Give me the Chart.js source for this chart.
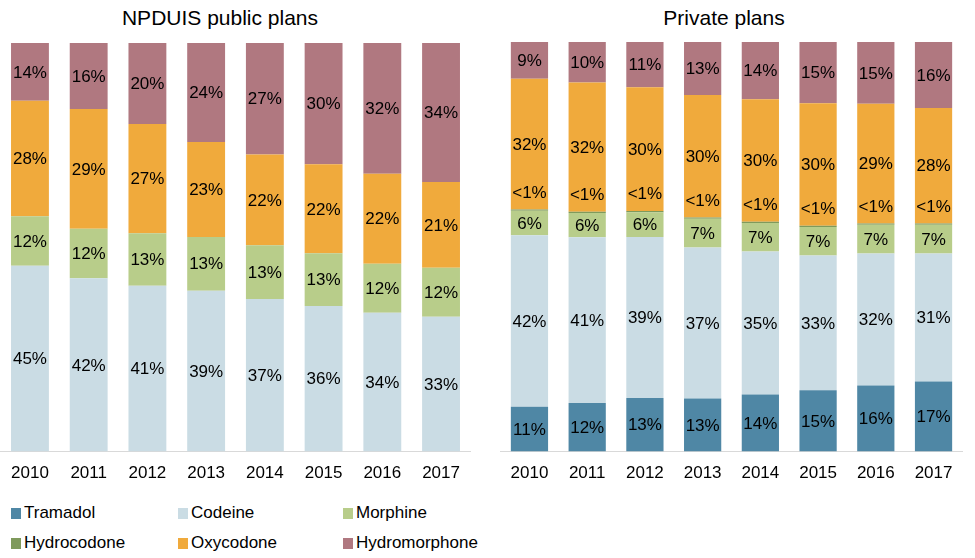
<!DOCTYPE html>
<html>
<head>
<meta charset="utf-8">
<script src="https://cdn.jsdelivr.net/npm/chart.js@4"></script>
<style>
  body { margin: 0; background: #fff; font-family: "Liberation Sans", Arial, sans-serif; }
  #wrap { position: relative; width: 975px; height: 558px; overflow: hidden; }
  .title { position: absolute; top: 6px; font-size: 21px; color: #000; white-space: nowrap; transform: translateX(-50%); }
  .box { position: absolute; }
  .legend-item { position: absolute; font-size: 17px; color: #000; white-space: nowrap; line-height: 20px; }
  .legend-item span { display: inline-block; width: 10px; height: 11px; margin-right: 3px; vertical-align: -1px; }
</style>
</head>
<body>
<div id="wrap">
  <div class="title" style="left:220px">NPDUIS public plans</div>
  <div class="title" style="left:724px">Private plans</div>
  <div class="box" style="left:0;top:0;width:482px;height:500px"><canvas id="pub"></canvas></div>
  <div class="box" style="left:487px;top:0;width:488px;height:500px"><canvas id="priv"></canvas></div>
  <div id="legend"></div>
</div>
<script>
const years = ["2010", "2011", "2012", "2013", "2014", "2015", "2016", "2017"];

// NPDUIS public plans (%)
const pubCodeine = [45, 42, 41, 39, 37, 36, 34, 33];
const pubMorphine = [12, 12, 13, 13, 13, 13, 12, 12];
const pubOxycodone = [28, 29, 27, 23, 22, 22, 22, 21];
const pubHydromorphone = [14, 16, 20, 24, 27, 30, 32, 34];

// Private plans (%)
const privTramadol = [11, 12, 13, 13, 14, 15, 16, 17];
const privCodeine = [42, 41, 39, 37, 35, 33, 32, 31];
const privMorphine = [6, 6, 6, 7, 7, 7, 7, 7];
const privHydrocodone = [0.3, 0.3, 0.3, 0.3, 0.3, 0.3, 0.3, 0.3];
const privOxycodone = [32, 32, 30, 30, 30, 30, 29, 28];
const privHydromorphone = [9, 10, 11, 13, 14, 15, 15, 16];

const colors = {
  Tramadol: "#4f87a5",
  Codeine: "#cadce4",
  Morphine: "#b8cd8a",
  Hydrocodone: "#7f9a5c",
  Oxycodone: "#f0aa3c",
  Hydromorphone: "#b07880"
};
const legendOrder = ["Tramadol", "Codeine", "Morphine", "Hydrocodone", "Oxycodone", "Hydromorphone"];
const FONT = "'Liberation Sans', Arial, sans-serif";

// 100% stacked: each bar is scaled to its own total
function share(series, all) {
  return series.map((v, j) => v / all.reduce((s, a) => s + a[j], 0) * 100);
}

function makeDatasets(list) {
  const all = list.map(d => d.values);
  return list.map(d => ({
    label: d.name,
    data: share(d.values, all),
    raw: d.values,
    backgroundColor: colors[d.name],
    borderWidth: 0,
    barPercentage: 0.645,
    categoryPercentage: 1
  }));
}

const labelPlugin = {
  id: "segLabels",
  afterDatasetsDraw(chart) {
    const ctx = chart.ctx;
    ctx.save();
    ctx.font = "17px " + FONT;
    ctx.fillStyle = "#000";
    ctx.textAlign = "center";
    ctx.textBaseline = "middle";
    chart.data.datasets.forEach((ds, di) => {
      chart.getDatasetMeta(di).data.forEach((bar, i) => {
        const v = ds.raw[i];
        let y = (bar.y + bar.base) / 2;
        let txt = v + "%";
        if (v < 1) { txt = "<1%"; y -= 18; }
        ctx.fillText(txt, bar.x, y + 1);
      });
    });
    ctx.restore();
  }
};

function makeChart(id, datasets, pad) {
  return new Chart(document.getElementById(id), {
    type: "bar",
    data: { labels: years, datasets },
    options: {
      responsive: true,
      maintainAspectRatio: false,
      animation: false,
      layout: { padding: pad },
      plugins: { legend: { display: false }, tooltip: { enabled: false }, title: { display: false } },
      scales: {
        x: {
          stacked: true,
          grid: { display: false },
          border: { display: true, color: "#d9d9d9", width: 1 },
          ticks: { color: "#000", font: { size: 17, family: FONT }, padding: 4 }
        },
        y: { stacked: true, min: 0, max: 100, display: false }
      }
    },
    plugins: [labelPlugin]
  });
}

makeChart("pub", makeDatasets([
  { name: "Codeine", values: pubCodeine },
  { name: "Morphine", values: pubMorphine },
  { name: "Oxycodone", values: pubOxycodone },
  { name: "Hydromorphone", values: pubHydromorphone }
]), { left: 0.6, right: 11.6, top: 43, bottom: 12 });

makeChart("priv", makeDatasets([
  { name: "Tramadol", values: privTramadol },
  { name: "Codeine", values: privCodeine },
  { name: "Morphine", values: privMorphine },
  { name: "Hydrocodone", values: privHydrocodone },
  { name: "Oxycodone", values: privOxycodone },
  { name: "Hydromorphone", values: privHydromorphone }
]), { left: 13.6, right: 12.6, top: 42, bottom: 12 });

// shared legend, 3 columns x 2 rows
const legend = document.getElementById("legend");
const colX = [11, 178, 343];
const rowY = [503, 533];
legendOrder.forEach((name, k) => {
  const item = document.createElement("div");
  item.className = "legend-item";
  item.style.left = colX[k % 3] + "px";
  item.style.top = rowY[Math.floor(k / 3)] + "px";
  item.innerHTML = `<span style="background:${colors[name]}"></span>${name}`;
  legend.appendChild(item);
});
</script>
</body>
</html>
